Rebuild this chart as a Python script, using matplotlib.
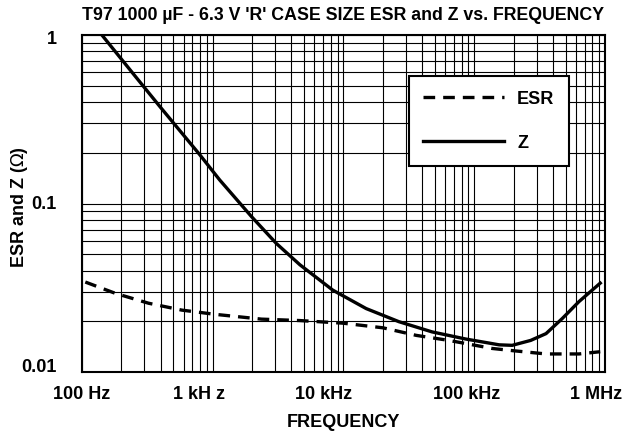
import numpy as np
import matplotlib.pyplot as plt
from matplotlib.transforms import ScaledTranslation

plt.rcParams['font.family'] = ['Liberation Sans', 'DejaVu Sans']
plt.rcParams['mathtext.fontset'] = 'dejavusans'

# ── curve data (Hz, ohm) ───────────────────────────────────────────
z_freq = [142, 250, 400, 795, 1130, 1977, 3060, 4640, 8290, 14900,
          26500, 47600, 86000, 155000, 195000, 270000, 354000, 472000, 633000, 920000]
z_ohm = [1.0, 0.581, 0.371, 0.195, 0.138, 0.0837, 0.058, 0.0433, 0.0306, 0.0238,
         0.0199, 0.0173, 0.0157, 0.0145, 0.0144, 0.0154, 0.0169, 0.0208, 0.0262, 0.0337]

esr_freq = [106, 180, 323, 580, 1040, 2360, 4640, 9860, 20000, 36000,
            64000, 137000, 195000, 354000, 633000, 920000]
esr_ohm = [0.0342, 0.0293, 0.0256, 0.0233, 0.0220, 0.0206, 0.0202, 0.0195,
           0.0183, 0.0165, 0.0154, 0.0138, 0.0134, 0.0128, 0.0128, 0.0132]

x_ticks = [1e2, 1e3, 1e4, 1e5, 1e6]
x_tick_labels = ['100 Hz', '1 kH z', '10 kHz', '100 kHz', '1 MHz']
y_ticks = [0.01, 0.1, 1]
y_tick_labels = ['0.01', '0.1', '1']

# ── figure ─────────────────────────────────────────────────────────
fig = plt.figure(figsize=(6.39, 4.37), dpi=100)
ax = fig.add_axes([0.1283, 0.1487, 0.8185, 0.7712])

ax.set_xscale('log')
ax.set_yscale('log')
ax.set_xlim(1e2, 1e6)
ax.set_ylim(0.01, 1)

ax.grid(True, which='both', color='black', lw=0.8)
ax.tick_params(which='both', length=0)
for s in ax.spines.values():
    s.set_linewidth(1.5)

ax.plot(esr_freq, esr_ohm, color='black', lw=2.4, dashes=(3.5, 2.4), label='ESR')
ax.plot(z_freq, z_ohm, color='black', lw=2.4, label='Z')

ax.set_xticks(x_ticks)
ax.set_xticklabels(x_tick_labels, fontsize=13, fontweight='bold')
ax.set_yticks(y_ticks)
ax.set_yticklabels(y_tick_labels, fontsize=13, fontweight='bold')
ax.xaxis.set_minor_formatter(plt.NullFormatter())
ax.yaxis.set_minor_formatter(plt.NullFormatter())
ax.tick_params(axis='x', pad=10)
ax.tick_params(axis='y', pad=18)

# nudge the tick labels (in pixels) the way the printed sheet has them
for lbl, dx in zip(ax.get_xticklabels(), [0, -14, -20, -8, -9]):
    lbl.set_transform(lbl.get_transform() + ScaledTranslation(dx / 100, 0, fig.dpi_scale_trans))
for lbl, dy in zip(ax.get_yticklabels(), [7, 1, -2]):
    lbl.set_transform(lbl.get_transform() + ScaledTranslation(0, dy / 100, fig.dpi_scale_trans))

ax.set_title("T97 1000 µF - 6.3 V 'R' CASE SIZE ESR and Z vs. FREQUENCY",
             fontsize=12.8, fontweight='bold', pad=11)
ax.set_xlabel('FREQUENCY', fontsize=13, fontweight='bold', labelpad=8)
ax.set_ylabel(r'ESR and Z ($\Omega$)', fontsize=13, fontweight='bold')
ax.yaxis.set_label_coords(-0.1, 0.49)

leg = ax.legend(loc='upper right', bbox_to_anchor=(0.931, 0.878),
                prop={'family': 'Liberation Sans', 'weight': 'bold', 'size': 13},
                handlelength=4.5, handletextpad=0.7, labelspacing=1.5,
                borderpad=0.8, borderaxespad=0, fancybox=False, framealpha=1)
leg.get_frame().set_edgecolor('black')
leg.get_frame().set_linewidth(1.5)

fig.savefig('out.png', dpi=100)
